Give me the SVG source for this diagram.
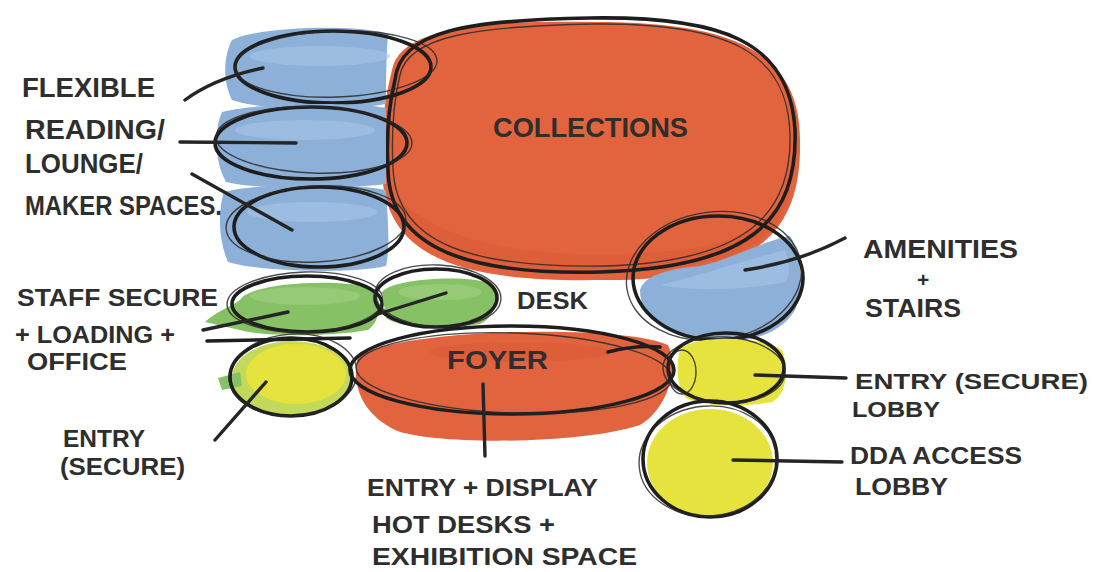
<svg xmlns="http://www.w3.org/2000/svg" width="1093" height="572" viewBox="0 0 1093 572">
<style>
.txt{font-family:"Liberation Sans",Arial,sans-serif;font-weight:bold;fill:#2e2e2e;}
.ol{fill:none;stroke:#1e1e1e;stroke-width:3.6;stroke-linecap:round;stroke-linejoin:round}
.ol2{fill:none;stroke:#2a2a2a;stroke-width:1.4;opacity:.85}
.ld{fill:none;stroke:#252525;stroke-width:3.4;stroke-linecap:round}
.blue{fill:#8db0d9}
.blue2{fill:#a9c5e6;opacity:.6}
.orange{fill:#e2643f}
.orange2{fill:#d4522e;opacity:.35}
.green{fill:#86c165}
.green2{fill:#a3d184;opacity:.6}
.yellow{fill:#e6e33e}
</style>
<rect width="1093" height="572" fill="#ffffff"/>

<g id="collections">
  <path class="orange" d="M 392 70 C 400 28 480 20 595 22 C 730 22 800 50 800 140 C 802 230 760 282 600 280 C 470 282 384 262 382 170 C 380 125 386 95 392 70 Z"/>
  <path class="orange2" d="M 400 200 C 450 250 560 262 680 250 C 740 244 770 220 790 190 C 780 250 720 270 600 272 C 480 274 410 250 400 200 Z"/>
  <path class="ol" d="M 395 80 C 400 30 470 20 590 18 C 720 16 790 40 795 130 C 798 220 750 268 600 272 C 470 275 390 250 388 170 C 386 130 390 100 395 80 Z"/>
  <path class="ol2" d="M 400 75 C 408 35 480 26 595 24 C 725 23 788 50 790 135 C 792 215 745 262 605 266 C 475 268 396 246 393 168 C 391 130 394 100 400 75 Z"/>
  <text class="txt" x="493" y="137" font-size="27" textLength="195" lengthAdjust="spacingAndGlyphs">COLLECTIONS</text>
</g>

<g id="reading1">
  <path class="blue" d="M 232 40 C 260 26 360 24 388 34 C 386 60 386 90 386 104 C 340 112 260 110 232 100 C 222 80 224 55 232 40 Z"/>
  <ellipse class="blue2" cx="320" cy="56" rx="70" ry="10"/>
  <ellipse class="ol" cx="333" cy="67" rx="98" ry="36"/>
  <ellipse class="ol2" cx="336" cy="64" rx="101" ry="33" transform="rotate(-2 336 64)"/>
</g>

<g id="reading2">
  <path class="blue" d="M 222 112 C 260 102 360 102 386 108 C 386 135 386 165 386 184 C 340 190 260 190 226 182 C 214 160 214 130 222 112 Z"/>
  <ellipse class="blue2" cx="305" cy="130" rx="70" ry="10"/>
  <ellipse class="ol" cx="311" cy="143" rx="96" ry="36"/>
  <ellipse class="ol2" cx="314" cy="140" rx="98" ry="33" transform="rotate(2 314 140)"/>
</g>

<g id="reading3">
  <path class="blue" d="M 224 192 C 260 182 360 184 386 190 C 388 220 390 250 386 266 C 350 274 260 272 228 262 C 218 240 218 210 224 192 Z"/>
  <ellipse class="blue2" cx="312" cy="212" rx="65" ry="10"/>
  <ellipse class="ol" cx="319" cy="227" rx="85" ry="40"/>
  <ellipse class="ol2" cx="316" cy="224" rx="90" ry="38" transform="rotate(-3 316 224)"/>
</g>

<g id="staff-secure">
  <path class="green" d="M 205 322 C 215 312 232 306 240 300 C 250 282 340 278 372 288 C 384 300 380 322 368 330 C 320 338 260 336 240 330 Z"/>
  <ellipse class="green2" cx="305" cy="296" rx="55" ry="9"/>
  <ellipse class="ol" cx="307" cy="304" rx="75" ry="28"/>
  <ellipse class="ol2" cx="305" cy="302" rx="78" ry="30" transform="rotate(-2 305 302)"/>
</g>

<g id="office">
  <path class="green" d="M 382 292 C 392 278 470 274 492 284 C 500 300 494 318 480 324 C 440 330 400 328 386 318 Z"/>
  <ellipse class="green2" cx="440" cy="292" rx="42" ry="8"/>
  <ellipse class="ol" cx="436" cy="298" rx="61" ry="29"/>
  <ellipse class="ol2" cx="438" cy="296" rx="63" ry="31" transform="rotate(3 438 296)"/>
</g>

<g id="entry-secure">
  <ellipse fill="#c2d95a" cx="292" cy="378" rx="60" ry="37"/>
  <ellipse class="yellow" cx="296" cy="374" rx="50" ry="30"/>
  <path class="green" d="M 218 378 L 240 372 L 242 386 L 222 390 Z"/>
  <ellipse class="ol" cx="291" cy="377" rx="61" ry="39"/>
  <ellipse class="ol2" cx="293" cy="375" rx="64" ry="41" transform="rotate(-4 293 375)"/>
  <path class="ol" d="M 207 341 L 350 338"/>
</g>

<g id="foyer">
  <path class="orange" d="M 357 360 C 370 330 620 322 668 345 C 680 372 665 410 640 425 C 580 445 430 445 395 430 C 365 415 352 390 357 360 Z"/>
  <ellipse class="orange2" cx="520" cy="352" rx="90" ry="10"/>
  <ellipse class="ol" cx="512" cy="370" rx="162" ry="44"/>
  <ellipse class="ol2" cx="514" cy="373" rx="158" ry="40" transform="rotate(2 514 373)"/>
  <path class="ol" d="M 608 352 Q 635 345 660 347"/>
  <text class="txt" x="447" y="369" font-size="25" textLength="101" lengthAdjust="spacingAndGlyphs">FOYER</text>
</g>

<g id="desk">
  <text class="txt" x="517" y="309" font-size="24" textLength="71" lengthAdjust="spacingAndGlyphs">DESK</text>
</g>

<g id="amenities">
  <path class="blue" d="M 640 290 C 645 272 680 268 700 266 C 730 260 760 242 790 236 C 802 255 804 290 795 310 C 780 335 750 342 718 342 C 670 340 640 320 640 290 Z"/>
  <path class="blue2" d="M 660 285 C 690 278 740 262 785 250 C 790 262 790 275 786 282 C 740 290 700 292 660 285 Z"/>
  <ellipse class="ol" cx="718" cy="278" rx="85" ry="62"/>
  <ellipse class="ol2" cx="714" cy="276" rx="88" ry="64" transform="rotate(-8 714 276)"/>
</g>

<g id="entry-lobby">
  <path class="yellow" d="M 680 350 C 690 335 760 335 782 350 C 790 370 786 395 772 402 C 740 408 700 406 686 398 C 676 385 676 365 680 350 Z"/>
  <ellipse class="ol" cx="726" cy="368" rx="58" ry="35"/>
  <ellipse class="ol2" cx="724" cy="370" rx="61" ry="33" transform="rotate(3 724 370)"/>
  <ellipse class="ol2" cx="682" cy="372" rx="14" ry="22"/>
</g>

<g id="dda-lobby">
  <ellipse class="yellow" cx="710" cy="463" rx="63" ry="54"/>
  <ellipse class="ol" cx="710" cy="459" rx="67" ry="58"/>
  <ellipse class="ol2" cx="708" cy="461" rx="69" ry="55" transform="rotate(-5 708 461)"/>
</g>

<g id="labels">
  <text class="txt" x="22" y="97" font-size="27" textLength="133" lengthAdjust="spacingAndGlyphs">FLEXIBLE</text>
  <text class="txt" x="25" y="139" font-size="27" textLength="140" lengthAdjust="spacingAndGlyphs">READING/</text>
  <text class="txt" x="25" y="173" font-size="27" textLength="118" lengthAdjust="spacingAndGlyphs">LOUNGE/</text>
  <text class="txt" x="25" y="215" font-size="27" textLength="197" lengthAdjust="spacingAndGlyphs">MAKER SPACES.</text>

  <text class="txt" x="17" y="306" font-size="24" textLength="201" lengthAdjust="spacingAndGlyphs">STAFF SECURE</text>
  <text class="txt" x="15" y="343" font-size="24" textLength="160" lengthAdjust="spacingAndGlyphs">+ LOADING +</text>
  <text class="txt" x="27" y="370" font-size="24" textLength="100" lengthAdjust="spacingAndGlyphs">OFFICE</text>

  <text class="txt" x="63" y="447" font-size="23" textLength="82" lengthAdjust="spacingAndGlyphs">ENTRY</text>
  <text class="txt" x="60" y="475" font-size="23" textLength="125" lengthAdjust="spacingAndGlyphs">(SECURE)</text>

  <text class="txt" x="367" y="496" font-size="24" textLength="231" lengthAdjust="spacingAndGlyphs">ENTRY + DISPLAY</text>
  <text class="txt" x="372" y="533" font-size="24" textLength="183" lengthAdjust="spacingAndGlyphs">HOT DESKS +</text>
  <text class="txt" x="372" y="565" font-size="24" textLength="265" lengthAdjust="spacingAndGlyphs">EXHIBITION SPACE</text>

  <text class="txt" x="863" y="258" font-size="25" textLength="155" lengthAdjust="spacingAndGlyphs">AMENITIES</text>
  <text class="txt" x="917" y="287" font-size="21">+</text>
  <text class="txt" x="865" y="317" font-size="25" textLength="96" lengthAdjust="spacingAndGlyphs">STAIRS</text>

  <text class="txt" x="855" y="389" font-size="22" textLength="233" lengthAdjust="spacingAndGlyphs">ENTRY (SECURE)</text>
  <text class="txt" x="852" y="417" font-size="22" textLength="88" lengthAdjust="spacingAndGlyphs">LOBBY</text>

  <text class="txt" x="850" y="464" font-size="24" textLength="172" lengthAdjust="spacingAndGlyphs">DDA ACCESS</text>
  <text class="txt" x="855" y="495" font-size="24" textLength="93" lengthAdjust="spacingAndGlyphs">LOBBY</text>
</g>

<g id="connectors">
  <path class="ld" d="M 185 100 Q 215 78 263 68"/>
  <path class="ld" d="M 180 142 L 296 143"/>
  <path class="ld" d="M 192 174 L 292 230"/>
  <path class="ld" d="M 203 330 L 288 312"/>
  <path class="ld" d="M 446 293 L 375 315"/>
  <path class="ld" d="M 215 440 L 266 382"/>
  <path class="ld" d="M 483 384 L 485 456"/>
  <path class="ld" d="M 745 270 Q 800 262 845 238"/>
  <path class="ld" d="M 755 375 L 846 378"/>
  <path class="ld" d="M 733 460 L 842 462"/>
</g>
</svg>
